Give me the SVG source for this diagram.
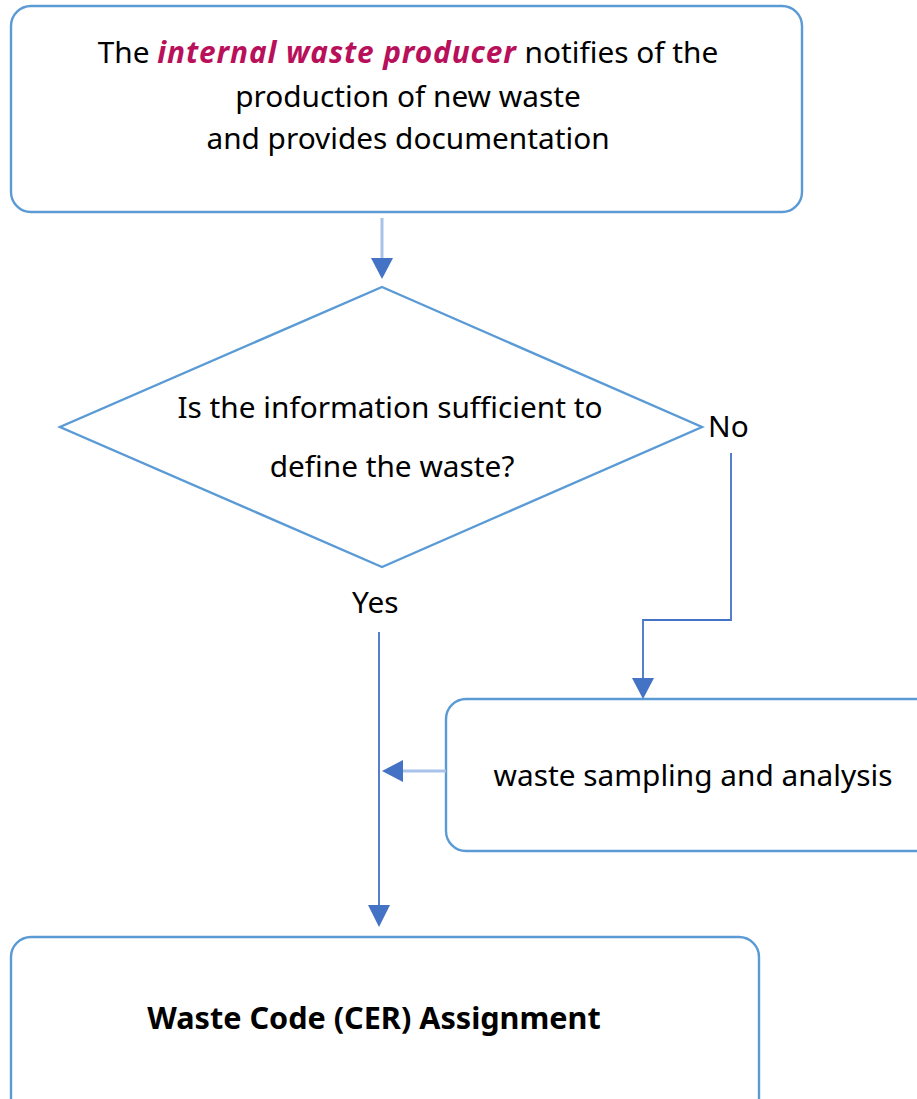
<svg xmlns="http://www.w3.org/2000/svg" width="917" height="1099" viewBox="0 0 917 1099">
<style>
.box{fill:#fff;stroke:#5B9BD5;stroke-width:2.4}
.t{font-family:"Noto Sans","Open Sans",sans-serif;font-size:29.8px;fill:#000}
.lt{stroke:#A9C2EA;stroke-width:3;fill:none}
.dk{stroke:#4472C4;stroke-width:1.8;fill:none}
.ah{fill:#4472C4}
</style>
<rect width="917" height="1099" fill="#fff"/>
<g id="start">
<rect class="box" x="11" y="6" width="791" height="206" rx="20"/>
<text class="t" text-anchor="middle"><tspan x="408" y="63">The <tspan font-weight="bold" font-style="italic" fill="#B8105A" letter-spacing="0.9">internal waste producer</tspan> notifies of the</tspan><tspan x="408" y="107">production of new waste</tspan><tspan x="408" y="149">and provides documentation</tspan></text>
</g>
<g id="decision">
<polygon class="box" points="382,287 702,427 382,567 60,427"/>
<text class="t" text-anchor="middle"><tspan x="390" y="418">Is the information sufficient to</tspan><tspan x="392" y="477">define the waste?</tspan></text>
</g>
<g id="sampling">
<rect class="box" x="446" y="699" width="500" height="152" rx="20"/>
<text class="t" text-anchor="middle" x="693" y="786">waste sampling and analysis</text>
</g>
<g id="assign">
<rect class="box" x="11" y="937" width="748" height="190" rx="20"/>
<text class="t" text-anchor="middle" x="374" y="1029" font-weight="bold" style="font-size:30.6px">Waste Code (CER) Assignment</text>
</g>
<g id="connectors">
<line class="lt" x1="382" y1="218" x2="382" y2="258"/>
<polygon class="ah" points="371,258 393,258 382,279"/>
<text class="t" x="708" y="437">No</text>
<polyline class="dk" points="731,453 731,620 643,620 643,678"/>
<polygon class="ah" points="632,678 654,678 643,699"/>
<text class="t" x="352" y="613">Yes</text>
<line class="dk" x1="379" y1="632" x2="379" y2="906"/>
<polygon class="ah" points="368,905 390,905 379,927"/>
<line class="lt" x1="446" y1="771" x2="402" y2="771"/>
<polygon class="ah" points="403,760 403,782 382,771"/>
</g>
</svg>
